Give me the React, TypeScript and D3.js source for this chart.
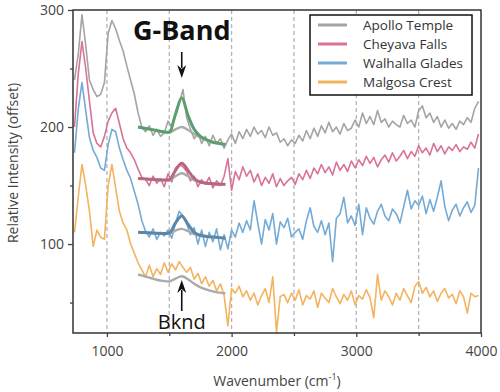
import React, { useEffect, useRef } from 'react'
import * as d3 from 'd3'

// sampling grid of the spectra (cm-1)
const wavenumbers = d3.range(740, 4000, 30)

const apolloTemple = [
  240, 262, 296, 270, 240, 232, 226, 228, 238, 280,
  291, 284, 274, 265, 252, 240, 228, 212, 200, 196,
  201, 193, 198, 192, 195, 205, 200, 210, 220, 232,
  208, 198, 190, 195, 186, 192, 184, 193, 186, 190,
  182, 189, 194, 186, 196, 190, 198, 192, 200, 194,
  197, 191, 200, 193, 195, 187, 190, 184, 189, 186,
  193, 188, 197, 190, 199, 192, 201, 195, 204, 196,
  200, 194, 203, 197, 199, 206, 200, 212, 203, 209,
  202, 214, 204, 207, 200, 205, 202, 200, 210, 203,
  206, 200, 214, 218, 208, 212, 204, 209, 200, 206,
  199, 203, 198, 205, 202, 208, 204, 216, 222
]

const cheyavaFalls = [
  200, 245, 273, 250, 222, 195, 186, 183, 192, 205,
  212, 216, 203, 190, 182, 178, 172, 164, 157, 155,
  150, 158, 152, 156, 149, 160, 153, 165, 168, 166,
  162, 154, 158, 149, 155, 151, 157, 148, 154, 150,
  158, 173, 146, 162, 155, 166, 158, 163, 153, 160,
  150, 157, 152, 160, 149, 156, 150, 154, 157, 151,
  160, 155, 163, 156, 165, 160, 168, 161, 166, 159,
  170, 163, 168, 162, 171, 165, 172, 167, 175, 169,
  174, 166, 172, 176, 170, 178, 171, 175, 180, 173,
  179, 175, 184, 178, 182, 176, 186, 179, 184, 177,
  183, 180, 185, 179, 183, 181, 187, 182, 194
]

const walhallaGlades = [
  178, 215, 238, 214, 191, 180, 174, 165, 163, 185,
  198, 196, 182, 172, 163, 156, 145, 134, 120, 111,
  106, 113, 104, 110, 107, 112, 105, 118, 128, 124,
  117, 108, 114, 100, 112, 98, 110, 102, 113, 95,
  108, 96, 112, 106, 118, 110, 120, 112, 137, 118,
  100, 121, 112, 126, 100, 119, 114, 122, 106, 110,
  113, 104, 120, 131, 115, 110, 120, 108, 118, 85,
  122, 126, 140, 118, 124, 116, 134, 108, 131, 122,
  117, 128, 134, 124, 120, 130, 126, 118, 132, 146,
  130, 137, 133, 141, 126, 138, 128, 140, 154, 132,
  120, 129, 134, 124, 131, 136, 127, 133, 165
]

const malgosaCrest = [
  110, 140, 168, 150, 128, 98, 112, 106, 104, 150,
  168, 148, 128, 118, 112, 100, 92, 84, 78, 72,
  82, 72, 79, 74, 84, 76, 83, 78, 85, 80,
  76, 80, 70, 75, 66, 72, 64, 69, 60, 66,
  56, 30, 62, 58, 64, 55, 60, 52, 58, 48,
  56, 62, 50, 72, 25, 55, 57, 50, 58, 52,
  61, 48, 56, 53, 60, 46, 58, 54, 50, 62,
  55, 49, 57, 52, 60, 48, 56, 53, 61, 54,
  37, 74, 52, 60, 55, 48, 58, 52, 62, 56,
  50, 64, 68, 58, 63, 55, 60, 51, 58, 62,
  54, 57, 49, 60, 55, 41, 58, 55, 56
]

// fitted curves over the G-band window
const fitWavenumbers = [1250, 1300, 1350, 1400, 1450, 1500, 1550, 1600, 1650, 1700, 1750, 1800, 1850, 1900, 1950]
const apolloGFit = [200, 199, 198, 197, 196, 195.5, 211, 225, 210, 198, 192, 189, 187, 186, 185]
const apolloBknd = [200, 199, 198, 197, 196, 195.5, 198, 200, 197.5, 194, 191, 189, 187, 186, 185]
const cheyavaGFit = [156, 155.7, 155.4, 155, 154.7, 155, 163, 169, 163, 156, 153, 152, 151.5, 151, 151]
const cheyavaBknd = [156, 155.7, 155.4, 155, 154.7, 154.5, 158, 160.5, 158, 154.5, 152.5, 152, 151.5, 151, 151]
const walhallaGFit = [110, 109.8, 109.5, 109.2, 109, 109.5, 118, 124, 117, 110, 107.5, 106.5, 106, 105.5, 105]
const walhallaBknd = [110, 109.8, 109.5, 109.2, 109, 109, 111.5, 113, 111, 108.5, 107, 106.5, 106, 105.5, 105]
const malgosaBknd = [74, 72.5, 71, 69.5, 68.5, 68, 70.5, 72.5, 70, 66, 63, 61, 59.5, 58.5, 58]

const seriesNames = ['Apollo Temple', 'Cheyava Falls', 'Walhalla Glades', 'Malgosa Crest']
const seriesValues = [apolloTemple, cheyavaFalls, walhallaGlades, malgosaCrest]
const seriesColors = ['#a4a4a4', '#d9729b', '#74aad6', '#f4b35e']

const xMajorTicks = [1000, 2000, 3000, 4000]
const xMinorTicks = [1500, 2500, 3500]
const gridTicks = [1000, 1500, 2000, 2500, 3000, 3500]
const yMajorTicks = [100, 200, 300]
const yMinorTicks = [50, 150, 250]

const W = 500
const H = 392
const plot = { left: 73, right: 481, top: 10, bottom: 333 }
const font = '"Open Sans", "DejaVu Sans", sans-serif'

const x = d3.scaleLinear().domain([728, 4000]).range([plot.left, plot.right])
const y = d3.scaleLinear().domain([24, 300]).range([plot.bottom, plot.top])

const spectrumLine = d3
  .line<number>()
  .x((d, i) => x(wavenumbers[i]))
  .y(d => y(d))

const fitLine = d3
  .line<number>()
  .x((d, i) => x(fitWavenumbers[i]))
  .y(d => y(d))
  .curve(d3.curveMonotoneX)

const Arrow = ({ cx, y1, y2 }: { cx: number; y1: number; y2: number }) => {
  // y2 is the tip
  const dir = y2 > y1 ? 1 : -1
  const headLen = 13
  const base = y2 - dir * headLen
  return (
    <g>
      <line x1={cx} x2={cx} y1={y1} y2={base + dir * 3} stroke="#111" strokeWidth={1.6} />
      <path
        d={`M${cx},${y2} L${cx - 4.5},${base} L${cx},${base + dir * 4} L${cx + 4.5},${base} Z`}
        fill="#111"
      />
    </g>
  )
}

const App = () => {
  const xAxisRef = useRef<SVGGElement>(null)
  const xMinorRef = useRef<SVGGElement>(null)
  const yAxisRef = useRef<SVGGElement>(null)
  const yMinorRef = useRef<SVGGElement>(null)

  useEffect(() => {
    d3.select(xAxisRef.current)
      .call(d3.axisBottom(x).tickValues(xMajorTicks).tickSize(4).tickPadding(9).tickFormat(d3.format('d')))
      .call(g => g.select('.domain').remove())
    d3.select(xMinorRef.current)
      .call(d3.axisBottom(x).tickValues(xMinorTicks).tickSize(3).tickFormat(() => ''))
      .call(g => g.select('.domain').remove())
    d3.select(yAxisRef.current)
      .call(d3.axisLeft(y).tickValues(yMajorTicks).tickSize(5).tickPadding(4).tickFormat(d3.format('d')))
      .call(g => g.select('.domain').remove())
    d3.select(yMinorRef.current)
      .call(d3.axisLeft(y).tickValues(yMinorTicks).tickSize(3).tickFormat(() => ''))
      .call(g => g.select('.domain').remove())

    // style all axes the same
    d3.selectAll('.axis line').attr('stroke', '#444').attr('stroke-width', 1.3)
    d3.selectAll('.axis text')
      .attr('fill', '#444')
      .style('font-family', font)
      .style('font-size', '14px')
  }, [])

  return (
    <div style={{ position: 'absolute', left: 0, top: 0 }}>
      <svg width={W} height={H} style={{ display: 'block', background: '#fff' }}>
        <defs>
          <clipPath id="plot-clip">
            <rect x={plot.left} y={plot.top} width={plot.right - plot.left} height={plot.bottom - plot.top} />
          </clipPath>
        </defs>

        {/* dashed gridlines */}
        {gridTicks.map(t => (
          <line
            key={t}
            x1={x(t)}
            x2={x(t)}
            y1={plot.top}
            y2={plot.bottom}
            stroke="#b4b4b4"
            strokeWidth={1.3}
            strokeDasharray="4,3"
          />
        ))}

        <g clipPath="url(#plot-clip)">
          {seriesValues.map((vals, i) => (
            <path
              key={seriesNames[i]}
              d={spectrumLine(vals) || ''}
              fill="none"
              stroke={seriesColors[i]}
              strokeWidth={1.6}
              strokeLinejoin="round"
            />
          ))}

          {/* background-only fits */}
          {[apolloBknd, cheyavaBknd, walhallaBknd, malgosaBknd].map((vals, i) => (
            <path key={'b' + i} d={fitLine(vals) || ''} fill="none" stroke="#ababab" strokeWidth={2.4} />
          ))}
          {/* G-band fits */}
          <path d={fitLine(apolloGFit) || ''} fill="none" stroke="#5c9f6e" strokeWidth={3} />
          <path d={fitLine(cheyavaGFit) || ''} fill="none" stroke="#b8657f" strokeWidth={3} />
          <path d={fitLine(walhallaGFit) || ''} fill="none" stroke="#5d87a7" strokeWidth={3} />
        </g>

        <rect
          x={plot.left}
          y={plot.top}
          width={plot.right - plot.left}
          height={plot.bottom - plot.top}
          fill="none"
          stroke="#333"
          strokeWidth={1.5}
        />

        <g className="axis" ref={xAxisRef} transform={`translate(0,${plot.bottom})`} />
        <g className="axis" ref={xMinorRef} transform={`translate(0,${plot.bottom})`} />
        <g className="axis" ref={yAxisRef} transform={`translate(${plot.left},0)`} />
        <g className="axis" ref={yMinorRef} transform={`translate(${plot.left},0)`} />

        {/* annotations */}
        <text
          x={x(1600)}
          y={40}
          textAnchor="middle"
          fontFamily={font}
          fontWeight="bold"
          fontSize={27}
          fill="#111"
        >
          G-Band
        </text>
        <Arrow cx={x(1600)} y1={52} y2={78} />
        <text x={x(1600)} y={329} textAnchor="middle" fontFamily={font} fontSize={20} fill="#111">
          Bknd
        </text>
        <Arrow cx={x(1600)} y1={311} y2={280} />

        {/* legend */}
        <g transform="translate(310,15)">
          <rect x={0} y={0} width={162} height={80} fill="#fff" stroke="#111" strokeWidth={1.5} />
          {seriesNames.map((name, i) => (
            <g key={name} transform={`translate(0,${10 + i * 19})`}>
              <line x1={8} x2={37} y1={0} y2={0} stroke={seriesColors[i]} strokeWidth={3} />
              <text
                x={53}
                y={0}
                dy="0.35em"
                fontFamily={font}
                fontSize={13.5}
                fill="#333"
              >
                {name}
              </text>
            </g>
          ))}
        </g>

        {/* axis titles */}
        <text
          transform="translate(18,163) rotate(-90)"
          textAnchor="middle"
          fontFamily={font}
          fontSize={14}
          fill="#444"
        >
          Relative Intensity (offset)
        </text>
        <text x={(plot.left + plot.right) / 2} y={386} textAnchor="middle" fontFamily={font} fontSize={14} fill="#444">
          Wavenumber (cm<tspan dy={-6} fontSize={9}>-1</tspan>
          <tspan dy={6}>)</tspan>
        </text>
      </svg>
    </div>
  )
}

export default App
